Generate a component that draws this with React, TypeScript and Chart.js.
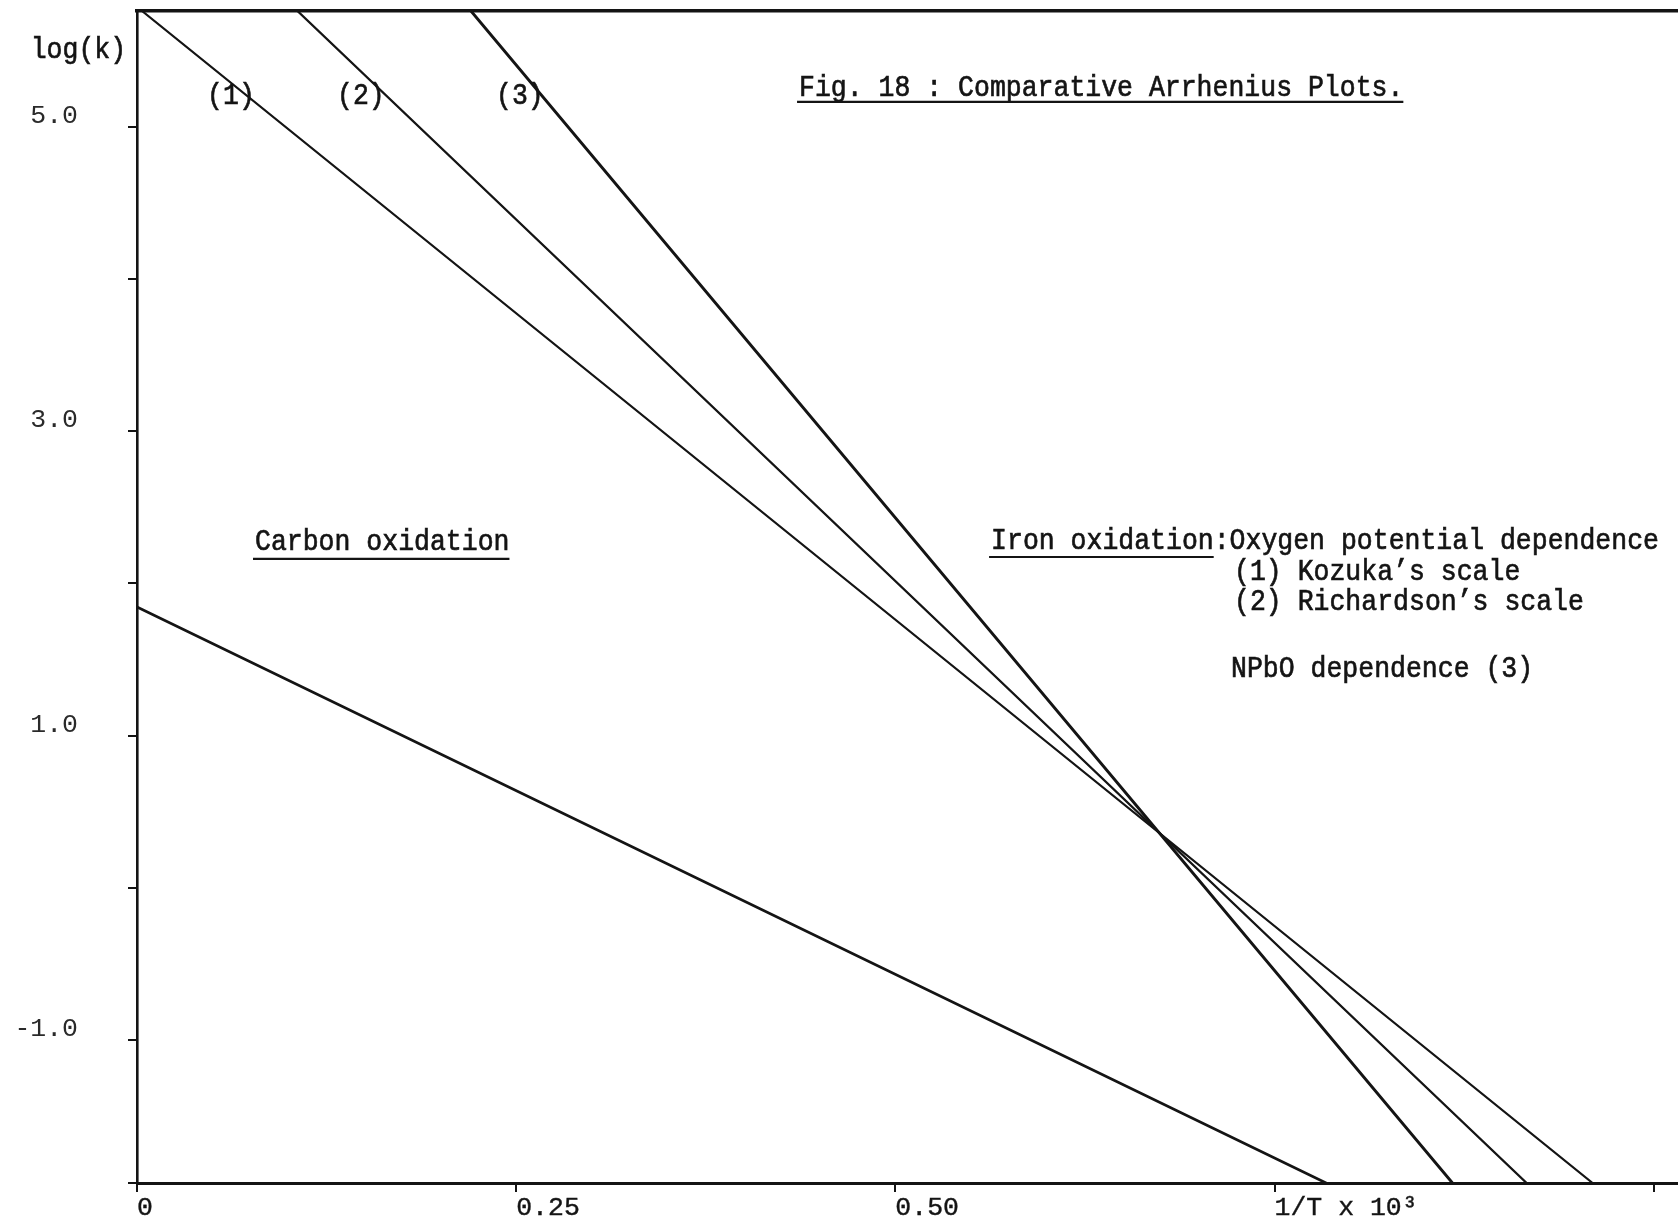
import { useEffect, useRef } from "react";
import { Chart, registerables } from "chart.js";

Chart.register(...registerables);

// Frame of the plot: 1/T x 10^3 along x, log(k) along y
const X_MIN = 0;
const X_MAX = 1.016;
const Y_MIN = -1.94;
const Y_MAX = 5.76;

const X_TICKS = [0, 0.25, 0.5, 0.75, 1.0];
const X_TICK_LABELS = ["0", "0.25", "0.50", "1/T x 10³", ""];
const Y_TICKS = [-1, 0, 1, 2, 3, 4, 5];
const Y_LABELLED = [5, 3, 1, -1];

// Iron oxidation, oxygen potential dependence: (1) Kozuka's scale
const KOZUKA_X = [0.0033, 0.9597];
const KOZUKA_Y = [5.76, -1.94];
// (2) Richardson's scale
const RICHARDSON_X = [0.1058, 0.9162];
const RICHARDSON_Y = [5.76, -1.94];
// (3) NPbO dependence
const NPBO_X = [0.2202, 0.8673];
const NPBO_Y = [5.76, -1.94];
// Carbon oxidation
const CARBON_X = [0, 0.784];
const CARBON_Y = [1.844, -1.94];

const INK = "#141414";
const FONT_FAMILY = '"Liberation Mono", "Courier New", monospace';
const FONT_SIZE = 26.5;
const TEXT_STRETCH = 1.12;

type Note = { text: string; x: number; y: number; underline?: number; gap?: number };

// Typed captions, anchored in axis units (left edge, baseline)
const NOTES: Note[] = [
  { text: "log(k)", x: -0.0701, y: 5.451 },
  { text: "(1)", x: 0.0462, y: 5.149 },
  { text: "(2)", x: 0.1319, y: 5.149 },
  { text: "(3)", x: 0.2367, y: 5.149 },
  { text: "Fig. 18 : Comparative Arrhenius Plots.", x: 0.4365, y: 5.202, underline: 38, gap: 6 },
  { text: "Carbon oxidation", x: 0.0778, y: 2.219, underline: 16, gap: 9 },
  { text: "Iron oxidation:Oxygen potential dependence", x: 0.5631, y: 2.2255, underline: 14, gap: 8 },
  { text: "(1) Kozuka’s scale", x: 0.7233, y: 2.022 },
  { text: "(2) Richardson’s scale", x: 0.7233, y: 1.8247 },
  { text: "NPbO dependence (3)", x: 0.7213, y: 1.3846 },
];

const toPoints = (xs: number[], ys: number[]) => xs.map((x, i) => ({ x, y: ys[i] }));

const captionPlugin = {
  id: "typedCaptions",
  afterDraw(chart: any) {
    const { ctx, scales } = chart;
    const sx = scales.x;
    const sy = scales.y;
    ctx.save();
    ctx.fillStyle = INK;
    ctx.strokeStyle = INK;
    ctx.font = `${FONT_SIZE}px ${FONT_FAMILY}`;
    ctx.textAlign = "left";
    ctx.textBaseline = "alphabetic";
    for (const n of NOTES) {
      const px = sx.getPixelForValue(n.x);
      const py = sy.getPixelForValue(n.y);
      ctx.save();
      ctx.translate(px, py);
      ctx.scale(1, TEXT_STRETCH);
      ctx.lineWidth = 0.6;
      ctx.fillText(n.text, 0, 0);
      ctx.strokeText(n.text, 0, 0);
      ctx.restore();
      if (n.underline) {
        const w = ctx.measureText(n.text.slice(0, n.underline)).width;
        const gy = py + (n.gap ?? 8);
        ctx.lineWidth = 2.2;
        ctx.beginPath();
        ctx.moveTo(px - 2, gy);
        ctx.lineTo(px + w, gy);
        ctx.stroke();
      }
    }
    ctx.restore();
  },
};

// Keep the frame edges fixed: no extra room for the outermost tick labels
const noEdgePadding = (axis: any) => {
  axis.paddingTop = 0;
  axis.paddingBottom = 0;
  axis.paddingLeft = 0;
  axis.paddingRight = 0;
};

export default function App() {
  const canvasRef = useRef<HTMLCanvasElement | null>(null);

  useEffect(() => {
    document.body.style.margin = "0";
    document.body.style.background = "#ffffff";
    const canvas = canvasRef.current;
    if (!canvas) return;

    const tickFont = { family: FONT_FAMILY, size: FONT_SIZE };
    const line = (label: string, xs: number[], ys: number[], width: number) => ({
      label,
      data: toPoints(xs, ys),
      borderColor: INK,
      backgroundColor: INK,
      borderWidth: width,
      pointRadius: 0,
      tension: 0,
      fill: false,
      borderCapStyle: "round" as const,
    });

    const chart = new Chart(canvas, {
      type: "line",
      data: {
        datasets: [
          line("(1) Kozuka's scale", KOZUKA_X, KOZUKA_Y, 2.2),
          line("(2) Richardson's scale", RICHARDSON_X, RICHARDSON_Y, 2.3),
          line("NPbO dependence (3)", NPBO_X, NPBO_Y, 2.9),
          line("Carbon oxidation", CARBON_X, CARBON_Y, 2.7),
        ],
      },
      options: {
        responsive: false,
        animation: false,
        layout: { padding: 0 },
        plugins: {
          legend: { display: false },
          tooltip: { enabled: false },
          title: { display: false },
        },
        scales: {
          x: {
            type: "linear",
            position: "bottom",
            min: X_MIN,
            max: X_MAX,
            afterBuildTicks: (axis: any) => {
              axis.ticks = X_TICKS.map((v) => ({ value: v }));
            },
            afterFit: (axis: any) => {
              axis.height = 47;
              noEdgePadding(axis);
            },
            grid: {
              display: true,
              drawOnChartArea: false,
              drawTicks: true,
              tickLength: 9,
              color: INK,
              lineWidth: 2,
            },
            border: { display: true, color: INK, width: 3 },
            ticks: {
              align: "start",
              padding: 0,
              color: INK,
              textStrokeColor: INK,
              textStrokeWidth: 0.4,
              font: tickFont,
              maxRotation: 0,
              autoSkip: false,
              callback: (value: any) => {
                const i = X_TICKS.indexOf(Number(value));
                return i >= 0 ? X_TICK_LABELS[i] : "";
              },
            },
          },
          xTop: {
            type: "linear",
            position: "top",
            min: X_MIN,
            max: X_MAX,
            grid: { display: false },
            ticks: { display: false },
            border: { display: true, color: INK, width: 3.5 },
            afterFit: (axis: any) => {
              axis.height = 11;
              noEdgePadding(axis);
            },
          },
          y: {
            type: "linear",
            position: "left",
            min: Y_MIN,
            max: Y_MAX,
            afterBuildTicks: (axis: any) => {
              axis.ticks = [Y_MIN, ...Y_TICKS].map((v) => ({ value: v }));
            },
            afterFit: (axis: any) => {
              axis.width = 137;
              noEdgePadding(axis);
            },
            grid: {
              display: true,
              drawOnChartArea: false,
              drawTicks: true,
              tickLength: 9,
              color: INK,
              lineWidth: 2,
            },
            border: { display: true, color: INK, width: 2.6 },
            ticks: {
              padding: 50,
              labelOffset: -11,
              color: "#2a2a2a",
              font: tickFont,
              autoSkip: false,
              callback: (value: any) => {
                const v = Number(value);
                return Y_LABELLED.includes(v) ? v.toFixed(1) : "";
              },
            },
          },
        },
      } as any,
      plugins: [captionPlugin],
    });

    return () => chart.destroy();
  }, []);

  return (
    <div style={{ width: 1678, height: 1230, background: "#ffffff" }}>
      <canvas ref={canvasRef} width={1678} height={1230} style={{ display: "block" }} />
    </div>
  );
}
